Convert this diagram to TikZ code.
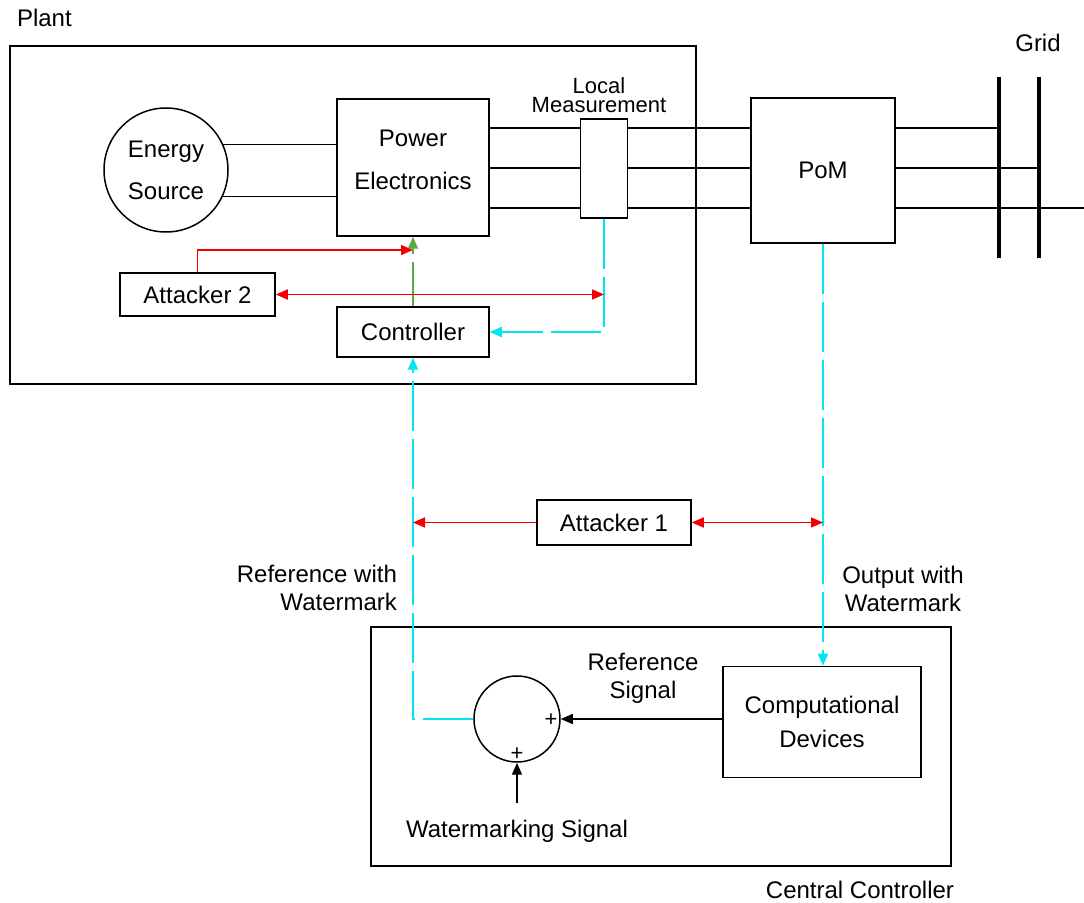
\documentclass[tikz,border=0pt]{standalone}
\usepackage{fontspec}
\setmainfont{Liberation Sans}
\usepackage{tikz}
\usetikzlibrary{arrows.meta, positioning}
\definecolor{sigcyan}{RGB}{0,230,240}
\definecolor{sigred}{RGB}{240,0,0}
\definecolor{siggreen}{RGB}{90,170,70}

\begin{document}
\begin{tikzpicture}[x=0.5pt, y=-0.5pt, font=\fontsize{12}{14}\selectfont,
    blk/.style={draw, line width=0.75pt, inner sep=0pt},
    wire/.style={line width=0.75pt},
    bus/.style={line width=1.6pt},
    sig/.style={sigcyan, line width=0.9pt, dash pattern=on 25pt off 4pt},
    atk/.style={sigred, line width=0.8pt},
    tip/.style={-{Triangle[length=6pt,width=5pt]}},
    tips/.style={{Triangle[length=6pt,width=5pt]}-{Triangle[length=6pt,width=5pt]}}]
\useasboundingbox (0,0) rectangle (1084,903);

% plant side
\node[anchor=west] (plantlbl) at (10,18) {Plant};
\node[blk, minimum width=343pt, minimum height=169pt] (plant) at (353,215) {};
\node[blk, circle, minimum size=62pt, align=center, font=\fontsize{12}{21}\selectfont] (es) at (166,170) {Energy\\Source};
\node[blk, minimum width=76pt, minimum height=68.5pt] (pe) at (413,167.5) {};
\node[align=center, font=\fontsize{12}{21.5}\selectfont] (petxt) at (413,159.5) {Power\\Electronics};
\node[blk, minimum width=72pt, minimum height=72.5pt] (pom) at (823,170.5) {PoM};
\node[blk, minimum width=77.5pt, minimum height=21.5pt] (atk2) at (197.5,294.5) {Attacker 2};
\node[blk, minimum width=76pt, minimum height=25pt] (ctrl) at (413,332) {Controller};

\draw[wire] (es.24) -- (pe.west |- es.24);
\draw[wire] (es.-25) -- (pe.west |- es.-25);
\foreach \y in {128,168,208}
  \draw[wire] (pe.east |- 0,\y) -- (pom.west |- 0,\y);

\node[blk, fill=white, minimum width=23.5pt, minimum height=49.5pt] (lm) at (604,168.5) {};
\node[align=center, font=\fontsize{11}{9.5}\selectfont] (lmtxt) at (599,95) {Local\\Measurement};

% grid
\node (grid) at (1038,43) {Grid};
\coordinate (b1t) at (999,77);
\coordinate (b1b) at (999,258);
\coordinate (b2t) at (1039,77);
\coordinate (b2b) at (1039,258);
\coordinate (gend) at (1084,208);
\draw[bus] (b1t) -- (b1b);
\draw[bus] (b2t) -- (b2b);
\draw[wire] (pom.east |- 0,128) -- (b1t |- 0,128);
\draw[wire] (pom.east |- 0,168) -- (b2t |- 0,168);
\draw[wire] (pom.east |- gend) -- (gend);

% local attack and feedback
\coordinate (a2hit) at (413,250);
\draw[siggreen, line width=0.8pt, dash pattern=on 22pt off 4pt, tip] (ctrl.north) -- (pe.south);
\draw[atk, tip] (atk2.north) |- (a2hit);
\draw[sig, tip] (lm.south) |- (ctrl.east);
\draw[atk, tips] (atk2.east) -- (atk2.east -| lm.south);

% central controller
\node[blk, minimum width=290pt, minimum height=119.5pt] (cc) at (661,746.5) {};
\node (cclbl) at (860,890) {Central Controller};
\node[blk, minimum width=99pt, minimum height=55.5pt, align=center, font=\fontsize{12}{17}\selectfont] (cd) at (822,722) {Computational\\Devices};
\node[blk, circle, minimum size=43pt] (sum) at (517,719) {};
\node[font=\fontsize{11}{12}\selectfont] (plus1) at (551,720) {+};
\node[font=\fontsize{11}{12}\selectfont] (plus2) at (517,754) {+};
\node (wm) at (517,831) {Watermarking Signal};
\node[align=center] (refsig) at (643,678) {Reference\\Signal};
\draw[wire, tip] (cd.west |- sum.east) -- (sum.east);
\draw[wire, tip] ([yshift=5pt]wm.north) -- (sum.south);

% attacker 1 and remote signals
\node[blk, minimum width=77pt, minimum height=22.5pt] (atk1) at (614,522.5) {Attacker 1};
\node[align=right, anchor=east] (reflbl) at (404,588) {Reference with\\Watermark};
\node[align=center] (outlbl) at (903,589) {Output with\\Watermark};
\draw[sig, tip] (sum.west) -| (ctrl.south);
\draw[sig, tip] (pom.south) -- (pom.south |- cd.north);
\draw[atk, tip] (atk1.west) -- (atk1.west -| ctrl.south);
\draw[atk, tips] (atk1.east) -- (atk1.east -| pom.south);
\end{tikzpicture}
\end{document}
